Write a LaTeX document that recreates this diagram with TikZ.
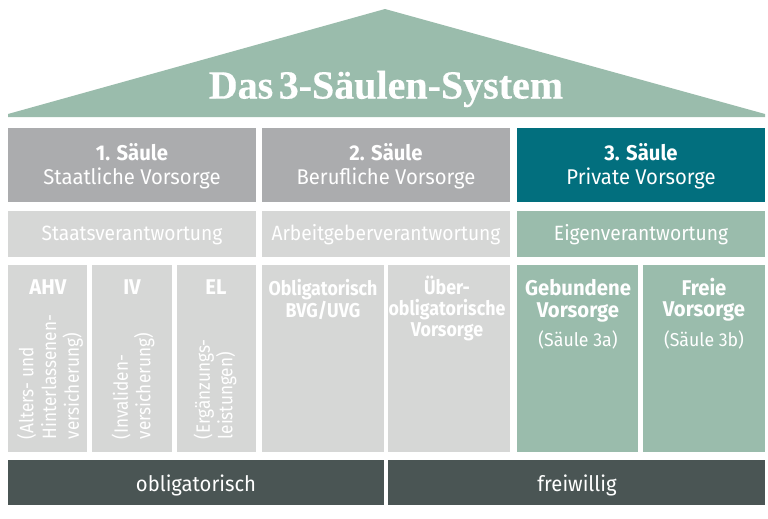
\documentclass[tikz,border=0pt]{standalone}
\usepackage{fontspec}
\setmainfont{Fira Sans}
\newfontfamily\serifb[FakeStretch=1.0,WordSpace=0.55,FakeBold=0.4]{Liberation Serif}
\newfontfamily\fna[FakeStretch=0.95]{Fira Sans}
\newfontfamily\fnb[FakeStretch=0.93]{Fira Sans}
\newfontfamily\fnc[FakeStretch=0.89]{Fira Sans}
\definecolor{sage}{HTML}{9ABCAC}
\definecolor{midgr}{HTML}{ABACAE}
\definecolor{ligr}{HTML}{D6D7D6}
\definecolor{teal}{HTML}{026F7E}
\definecolor{dark}{HTML}{4A5554}
\tikzset{
 px/.style={x=0.75pt,y=-0.75pt},
 t/.style={font=\fontsize{16}{18.2}\selectfont\fna,text=white,align=center},
 v/.style={font=\fontsize{15.5}{18}\selectfont\fnb,text=white,align=center},
 tb/.style={font=\fontsize{16}{16}\selectfont\fna\bfseries,text=white,align=center},
 tc/.style={font=\fontsize{15}{16}\selectfont\fnc\bfseries,text=white,align=center},
 rot/.style={font=\fontsize{14.5}{17}\selectfont\fnc,text=white,align=left,rotate=90,anchor=west},
 sm/.style={font=\fontsize{14}{16}\selectfont\fna,text=white,align=center},
}
\begin{document}
\begin{tikzpicture}[px]
\useasboundingbox (0,0) rectangle (768,518);
\fill[white] (0,0) rectangle (768,518);
\fill[sage] (8,117) -- (8,114) -- (385,9) -- (765,114) -- (765,117) -- cycle;
\node[font=\fontsize{30}{32}\selectfont\serifb\bfseries,text=white] (title) at (386,89) {Das 3-Säulen-System};
\fill[midgr] (8,128) rectangle (256,202);
\fill[midgr] (262,128) rectangle (510,202);
\fill[teal] (517,128) rectangle (765,202);
\node[t] (s1) at (132,166.5) {\textbf{1. Säule}\\Staatliche Vorsorge};
\node[t] (s2) at (386,166.5) {\textbf{2. Säule}\\Berufliche Vorsorge};
\node[t] (s3) at (641,166.5) {\textbf{3. Säule}\\Private Vorsorge};
\fill[ligr] (8,211) rectangle (256,257);
\fill[ligr] (262,211) rectangle (510,257);
\fill[sage] (517,211) rectangle (765,257);
\node[v] (v1) at (132,235) {Staatsverantwortung};
\node[v] (v2) at (386,235) {Arbeitgeberverantwortung};
\node[v] (v3) at (641,235) {Eigenverantwortung};
\fill[ligr] (8,265) rectangle (87,452);
\fill[ligr] (92,265) rectangle (172,452);
\fill[ligr] (177,265) rectangle (256,452);
\fill[ligr] (262,265) rectangle (384,452);
\fill[ligr] (388,265) rectangle (510,452);
\fill[sage] (517,265) rectangle (638,452);
\fill[sage] (643,265) rectangle (765,452);
\node[tb,anchor=north] (a) at (48,275) {AHV};
\node[tb,anchor=north] (b) at (132,275) {IV};
\node[tb,anchor=north] (c) at (216,275) {EL};
\node[rot] (ra) at (50,444) {(Alters- und\\Hinterlassenen-\\versicherung)};
\node[rot] (rb) at (133,444) {(Invaliden-\\versicherung)};
\node[rot] (rc) at (215,444) {(Ergänzungs-\\leistungen)};
\node[tc,anchor=north] (d) at (323,275) {Obligatorisch\\BVG/UVG};
\node[tc,anchor=north] (e) at (447,271) {Über-\\obligatorische\\Vorsorge};
\node[tb,anchor=north] (f) at (578,275) {Gebundene\\Vorsorge};
\node[tb,anchor=north] (g) at (704,273) {Freie\\Vorsorge};
\node[sm] (h) at (578,340) {(Säule 3a)};
\node[sm] (i) at (704,340) {(Säule 3b)};
\fill[dark] (8,460) rectangle (384,505);
\fill[dark] (388,460) rectangle (765,505);
\node[t] (o) at (196,485) {obligatorisch};
\node[t] (w) at (577,485) {freiwillig};
\end{tikzpicture}
\end{document}
